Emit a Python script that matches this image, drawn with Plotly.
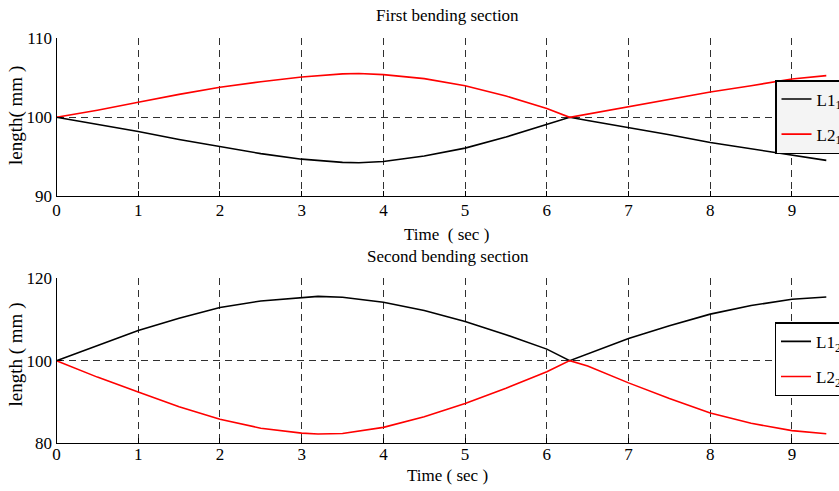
import plotly.graph_objects as go

# ---- data ----
t = [0, 0.5, 1, 1.5, 2, 2.5, 3, 3.5, 3.7, 4, 4.5, 5, 5.5, 6, 6.28, 6.5, 7, 7.5, 8, 8.5, 9, 9.42]

L1_1 = [100, 99.1, 98.2, 97.2, 96.3, 95.4, 94.7, 94.3, 94.25, 94.4, 95.1, 96.1, 97.5, 99.1, 100,
        99.6, 98.7, 97.8, 96.8, 96.0, 95.2, 94.55]
L2_1 = [100, 100.9, 101.9, 102.9, 103.8, 104.5, 105.1, 105.5, 105.55, 105.4, 104.9, 104.0, 102.7, 101.1, 100,
        100.4, 101.35, 102.3, 103.2, 104.0, 104.85, 105.27]

t2 = [0, 0.5, 1, 1.5, 2, 2.5, 3, 3.2, 3.5, 4, 4.5, 5, 5.5, 6, 6.28, 6.5, 7, 7.5, 8, 8.5, 9, 9.42]
L1_2 = [100, 103.7, 107.3, 110.3, 112.9, 114.5, 115.3, 115.6, 115.4, 114.2, 112.2, 109.5, 106.3, 102.8, 100,
        101.7, 105.4, 108.5, 111.3, 113.4, 114.9, 115.45]
L2_2 = [100, 96.0, 92.4, 88.8, 85.75, 83.6, 82.4, 82.2, 82.3, 83.8, 86.4, 89.6, 93.3, 97.3, 100,
        98.7, 94.6, 90.8, 87.3, 84.8, 83.0, 82.25]

x_ticks = [0, 1, 2, 3, 4, 5, 6, 7, 8, 9]
y_ticks_top = [90, 100, 110]
y_ticks_bot = [80, 100, 120]

W, H = 839, 491
FONT = "Liberation Serif"

fig = go.Figure()
fig.add_trace(go.Scatter(x=t, y=L1_1, mode="lines", name="L1<sub>1</sub>",
                         line=dict(color="#000000", width=1.6), xaxis="x", yaxis="y",
                         legend="legend", legendgroup="a"))
fig.add_trace(go.Scatter(x=t, y=L2_1, mode="lines", name="L2<sub>1</sub>",
                         line=dict(color="#ff0000", width=1.6), xaxis="x", yaxis="y",
                         legend="legend", legendgroup="b"))
fig.add_trace(go.Scatter(x=t2, y=L1_2, mode="lines", name="L1<sub>2</sub>",
                         line=dict(color="#000000", width=1.6), xaxis="x2", yaxis="y2",
                         legend="legend2", legendgroup="c"))
fig.add_trace(go.Scatter(x=t2, y=L2_2, mode="lines", name="L2<sub>2</sub>",
                         line=dict(color="#ff0000", width=1.6), xaxis="x2", yaxis="y2",
                         legend="legend2", legendgroup="d"))

x0 = 56.5 / W
xmax = (W - 56.5) / 81.72

axcommon = dict(showgrid=True, gridcolor="#303030", griddash="7px,5px", gridwidth=1,
                showline=True, linecolor="#000000", linewidth=1.2, zeroline=False,
                ticks="inside", ticklen=5, tickcolor="#000000", mirror=False,
                tickfont=dict(family=FONT, size=17, color="#000000"))

fig.update_layout(
    width=W, height=H, template="none",
    paper_bgcolor="#ffffff", plot_bgcolor="#ffffff",
    margin=dict(l=0, r=0, t=0, b=0, autoexpand=False),
    showlegend=True,
    xaxis=dict(domain=[x0, 1], range=[0, xmax], tickvals=x_ticks, anchor="y",
               ticklabelstandoff=-2, **axcommon),
    yaxis=dict(domain=[1 - 196.3 / H, 1 - 38.3 / H], range=[90, 110], tickvals=y_ticks_top,
               anchor="x", **axcommon),
    xaxis2=dict(domain=[x0, 1], range=[0, xmax], tickvals=x_ticks, anchor="y2",
                ticklabelstandoff=-5, **axcommon),
    yaxis2=dict(domain=[1 - 443 / H, 1 - 278.3 / H], range=[80, 120], tickvals=y_ticks_bot,
                anchor="x2", **axcommon),
    legend=dict(x=775 / W, y=1 - 80 / H, xanchor="left", yanchor="top",
                bgcolor="#f4f4f4", bordercolor="#000000", borderwidth=1.5,
                font=dict(family=FONT, size=17, color="#000000"), tracegroupgap=10),
    legend2=dict(x=774.5 / W, y=1 - 322.3 / H, xanchor="left", yanchor="top",
                 bgcolor="#ffffff", bordercolor="#000000", borderwidth=1.5,
                 font=dict(family=FONT, size=17, color="#000000"), tracegroupgap=10),
)

def ann(text, px, py, size=17, angle=0):
    fig.add_annotation(text=text, x=px / W, y=1 - py / H, xref="paper", yref="paper",
                       xanchor="center", yanchor="middle", showarrow=False, textangle=angle,
                       font=dict(family=FONT, size=size, color="#000000"))

ann("First bending section", 447.7, 15)
ann("Time  ( sec )", 446, 234)
ann("Second bending section", 448, 256.7)
ann("Time ( sec )", 447, 475)
ann("length( mm )", 15.5, 115.5, size=19, angle=-90)
ann("length ( mm )", 15.5, 355, size=19, angle=-90)

fig.write_html("out.html")
